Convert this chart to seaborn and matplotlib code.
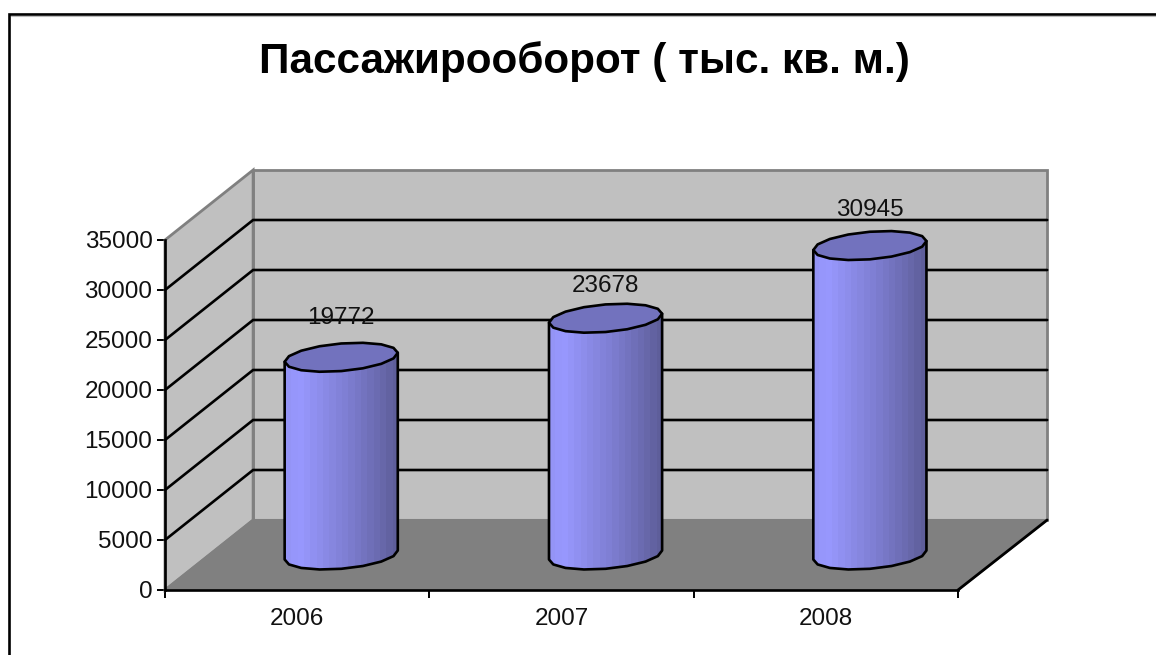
import numpy as np
import pandas as pd
import matplotlib
matplotlib.use("Agg")
import matplotlib.pyplot as plt
from matplotlib.colors import LinearSegmentedColormap
from matplotlib.patches import Polygon
from matplotlib.lines import Line2D
import seaborn as sns

years = ["2006", "2007", "2008"]
values = [19772, 23678, 30945]
title_text = "Пассажирооборот ( тыс. кв. м.)"
y_ticks = [0, 5000, 10000, 15000, 20000, 25000, 30000, 35000]

W, H, DPI = 1156, 655, 100
sns.set_theme(style="white")
plt.rcParams["font.family"] = ["Liberation Sans", "DejaVu Sans"]

fig = plt.figure(figsize=(W / DPI, H / DPI), dpi=DPI, facecolor="white")
ax = fig.add_axes([165 / W, 1 - 590 / H, 793 / W, 350 / H])
ax.patch.set_alpha(0)

df = pd.DataFrame({"year": years, "value": values})
sns.barplot(data=df, x="year", y="value", ax=ax, width=0.428, color="#8080D0",
            saturation=1, errorbar=None)
bars = list(ax.patches)

XMIN, XMAX, YMAX = -0.5, 2.5, 35000
DX, DY = 1 / 3, 7000  # depth of the 3D box in data units
GRAY_EDGE = "#808080"

# walls and floor
ax.add_patch(Polygon([(XMIN + DX, DY), (XMAX + DX + 0.004, DY), (XMAX + DX + 0.004, YMAX + DY), (XMIN + DX, YMAX + DY)],
                     fc="#C0C0C0", ec=GRAY_EDGE, lw=2, clip_on=False, zorder=1))
ax.add_patch(Polygon([(XMIN, 0), (XMIN + DX, DY), (XMIN + DX, YMAX + DY), (XMIN, YMAX)],
                     fc="#C0C0C0", ec=GRAY_EDGE, lw=2, clip_on=False, zorder=1.1))
ax.add_patch(Polygon([(XMIN, 0), (XMAX, 0), (XMAX + DX + 0.004, DY), (XMIN + DX, DY)],
                     fc="#808080", ec=GRAY_EDGE, lw=1.5, clip_on=False, zorder=1.2))
ax.add_line(Line2D([XMAX, XMAX + DX + 0.004], [0, DY], color="black", lw=2, clip_on=False, zorder=1.3))

# gridlines on walls
for v in y_ticks[1:-1]:
    ax.plot([XMIN, XMIN + DX, XMAX + DX + 0.004], [v, v + DY, v + DY], color="black", lw=1.9,
            clip_on=False, zorder=2, solid_joinstyle="miter")

# cylinders
cmap = LinearSegmentedColormap.from_list(
    "cyl", [(0, "#9494F6"), (0.1, "#9999FF"), (0.55, "#7E7ED2"), (0.85, "#6A6AAE"), (1, "#5E5E9A")])
grad = np.linspace(0, 1, 18)[None, :]
A = 0.5                 # half-width as a fraction of the bar width
B = 13.8 / 350 * YMAX   # vertical half-height of the ellipse, data units
S = 4.5 / 350 * YMAX    # tilt of the ellipse, data units
t = np.linspace(0, 2 * np.pi, 17)[:-1]
th = np.linspace(0, np.pi, 9)

label_lift = [39, 32, 35.5]  # px above the cap centre

for i, bar in enumerate(bars):
    w = bar.get_width()
    cx = bar.get_x() + w / 2 + DX / 2
    base = DY / 2
    top = base + bar.get_height()
    bar.set_visible(False)

    cap = np.c_[cx + A * w * np.cos(t), top + B * np.sin(t) + S * np.cos(t)]
    outline = np.r_[[(cx - A * w, top - S), (cx + A * w, top + S)],
                    np.c_[cx + A * w * np.cos(th), base + S * np.cos(th) - B * np.sin(th)]]
    im = ax.imshow(grad, cmap=cmap, aspect="auto", interpolation="nearest",
                   extent=[cx - A * w, cx + A * w, base - 2 * B, top + 2 * B], zorder=5.5)
    im.set_clip_path(Polygon(outline, closed=True, transform=ax.transData))
    ax.add_patch(Polygon(outline, closed=True, fc="none", ec="black", lw=1.9,
                         clip_on=False, zorder=6, joinstyle="round"))
    ax.add_patch(Polygon(cap, closed=True, fc="#7272BE", ec="black", lw=1.9,
                         clip_on=False, zorder=7, joinstyle="round"))
    ax.annotate(str(values[i]), (cx, top), xytext=(0, label_lift[i] * 72 / DPI),
                textcoords="offset points", ha="center", va="center",
                fontsize=17.5, color="#111111", zorder=8)

ax.set_xlim(XMIN, XMAX)
ax.set_ylim(0, YMAX)
ax.set_xlabel("")
ax.set_ylabel("")

# axes
for s in ("top", "right"):
    ax.spines[s].set_visible(False)
for s in ("left", "bottom"):
    ax.spines[s].set_visible(True)
    ax.spines[s].set_color("black")
    ax.spines[s].set_linewidth(1.9)
    ax.spines[s].set_zorder(3)
ax.set_yticks(y_ticks)
ax.set_yticklabels([str(v) for v in y_ticks])
ax.set_xticks(np.arange(-0.5, 3, 1))
ax.set_xticklabels([])
ax.set_xticks(range(3), years, minor=True)
ax.tick_params(axis="y", which="major", left=True, length=5.5, width=1.4, color="black",
               labelsize=17.5, pad=3.5, labelcolor="#111111")
ax.tick_params(axis="x", which="major", bottom=True, length=5.5, width=1.4, color="black")
ax.tick_params(axis="x", which="minor", bottom=False, length=0, labelsize=17.5, pad=13,
               labelcolor="#111111")

# title and outer frame
fig.text(584 / W, 1 - 61.5 / H, title_text, ha="center", va="center", fontsize=30.45,
         fontweight="bold", color="black")
fig.add_artist(Line2D([9 / W, 9 / W, 1], [0, 1 - 14 / H, 1 - 14 / H],
                      color="black", lw=1.9, solid_joinstyle="miter"))
fig.add_artist(Line2D([11 / W, 1], [1 - 15.8 / H, 1 - 15.8 / H], color="#BBBBBB", lw=0.8))

fig.savefig("out.png", dpi=DPI, facecolor="white")
